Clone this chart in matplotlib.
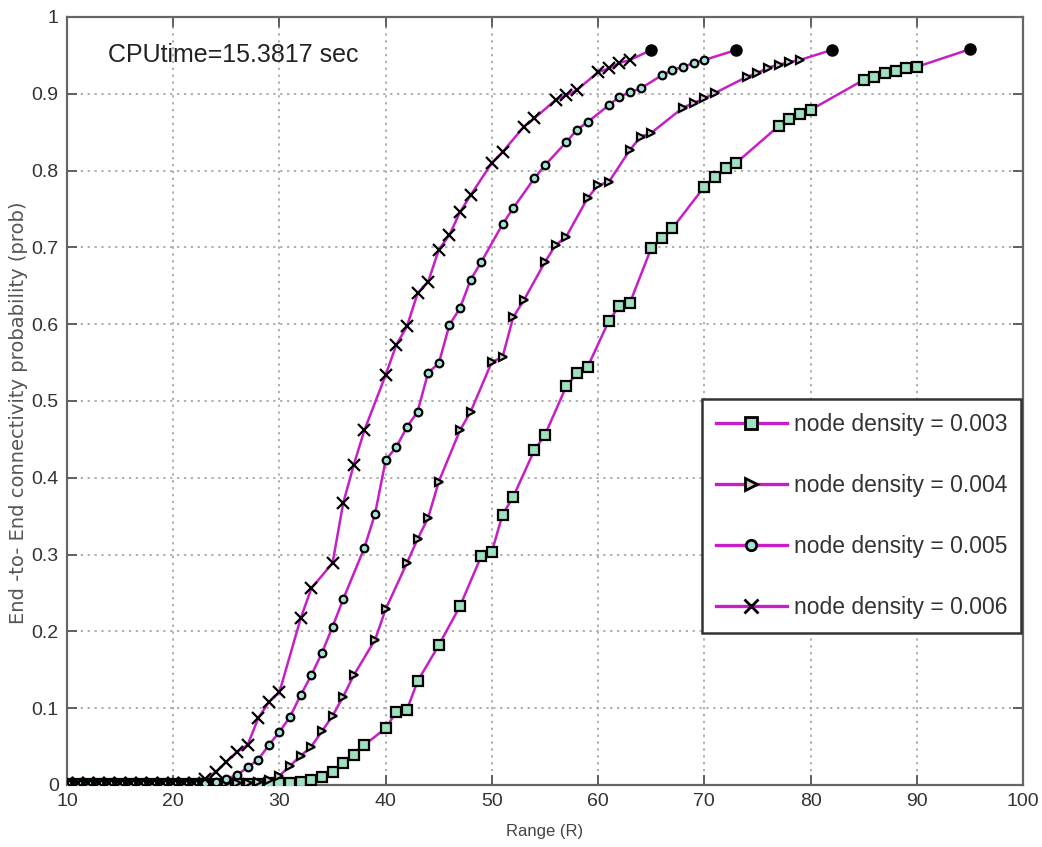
import numpy as np
import matplotlib.pyplot as plt

# Range values (R) and end-to-end connectivity probabilities
low_x = list(range(10, 23))

x_003 = low_x + [23, 24, 25, 26, 27, 28, 29, 30, 31, 32, 33, 34, 35, 36, 37, 38, 40, 41, 42, 43, 45, 47,
                 49, 50, 51, 52, 54, 55, 57, 58, 59, 61, 62, 63, 65, 66, 67, 70, 71, 72, 73,
                 77, 78, 79, 80, 85, 86, 87, 88, 89, 90]
p_003 = [0.001] * 13 + [0.001, 0.001, 0.001, 0.001, 0.001, 0.001, 0.002, 0.003, 0.003, 0.004, 0.006, 0.010,
                        0.017, 0.029, 0.039, 0.052, 0.074, 0.095, 0.098, 0.135, 0.182, 0.233,
                        0.298, 0.304, 0.352, 0.375, 0.436, 0.456, 0.519, 0.536, 0.544, 0.604, 0.624,
                        0.628, 0.699, 0.712, 0.725, 0.779, 0.792, 0.803, 0.810,
                        0.858, 0.867, 0.874, 0.879, 0.918, 0.922, 0.927, 0.930, 0.933, 0.935]

x_004 = low_x + [23, 24, 25, 26, 27, 28, 29, 30, 31, 32, 33, 34, 35, 36, 37, 39, 40, 42, 43, 44, 45,
                 47, 48, 50, 51, 52, 53, 55, 56, 57, 59, 60, 61, 63, 64, 65, 68, 69, 70, 71,
                 74, 75, 76, 77, 78, 79]
p_004 = [0.001] * 13 + [0.001, 0.001, 0.002, 0.002, 0.003, 0.004, 0.006, 0.012, 0.025, 0.038, 0.050,
                        0.070, 0.090, 0.115, 0.143, 0.189, 0.229, 0.289, 0.320, 0.348, 0.395,
                        0.462, 0.486, 0.551, 0.557, 0.609, 0.631, 0.681, 0.703, 0.714, 0.764,
                        0.781, 0.785, 0.827, 0.844, 0.849, 0.882, 0.888, 0.894, 0.901,
                        0.922, 0.927, 0.934, 0.938, 0.941, 0.944]

x_005 = low_x + [23, 24, 25, 26, 27, 28, 29, 30, 31, 32, 33, 34, 35, 36, 38, 39, 40, 41, 42, 43, 44,
                 45, 46, 47, 48, 49, 51, 52, 54, 55, 57, 58, 59, 61, 62, 63, 64, 66, 67, 68, 69, 70]
p_005 = [0.002] * 13 + [0.002, 0.004, 0.008, 0.013, 0.023, 0.033, 0.052, 0.069, 0.089, 0.117, 0.143,
                        0.172, 0.206, 0.242, 0.309, 0.353, 0.423, 0.440, 0.466, 0.486, 0.537,
                        0.549, 0.599, 0.621, 0.658, 0.681, 0.730, 0.751, 0.790, 0.807, 0.837,
                        0.853, 0.863, 0.885, 0.896, 0.902, 0.907, 0.924, 0.931, 0.935, 0.940, 0.944]

x_006 = low_x + [23, 24, 25, 26, 27, 28, 29, 30, 32, 33, 35, 36, 37, 38, 40, 41, 42, 43, 44, 45, 46,
                 47, 48, 50, 51, 53, 54, 56, 57, 58, 60, 61, 62, 63]
p_006 = [0.003] * 13 + [0.008, 0.017, 0.030, 0.043, 0.052, 0.087, 0.108, 0.121, 0.217, 0.256, 0.289,
                        0.367, 0.417, 0.462, 0.534, 0.573, 0.597, 0.640, 0.655, 0.697, 0.716,
                        0.746, 0.768, 0.810, 0.824, 0.857, 0.868, 0.892, 0.898, 0.905, 0.928,
                        0.933, 0.940, 0.944]

# final points (drawn as filled black dots)
end_x = [95, 82, 73, 65]
end_p = [0.958, 0.957, 0.957, 0.957]

labels = ['node density = 0.003', 'node density = 0.004',
          'node density = 0.005', 'node density = 0.006']

plt.rcParams['font.family'] = ['Liberation Sans Narrow', 'Liberation Sans', 'DejaVu Sans']

fig = plt.figure(figsize=(10.42, 8.47), dpi=100)
ax = fig.add_axes([0.0643, 0.0732, 0.9175, 0.9068])

line_col = '#c61fc6'
series = [(x_003, p_003, 's', '#9fe0c0', 6.5),
          (x_004, p_004, '>', '#d0d0d0', 6),
          (x_005, p_005, 'o', '#a8e0d8', 5.5),
          (x_006, p_006, 'x', 'none', 8)]

for i, (xs, ps, mk, fc, ms) in enumerate(series):
    xx = xs + [end_x[i]]
    pp = ps + [end_p[i]]
    ax.plot(xx, pp, '-', color=line_col, lw=1.8, zorder=2)
    ax.plot(xs, ps, linestyle='none', marker=mk, ms=ms, mfc=fc, mec='black',
            mew=1.6, zorder=3)
    ax.plot(end_x[i], end_p[i], 'o', ms=8, color='black', zorder=4)

# legend proxies
handles = []
for xs, ps, mk, fc, ms in series:
    h, = ax.plot([], [], '-', color=line_col, lw=2.4, marker=mk, ms=ms + 2,
                 mfc=fc, mec='black', mew=2)
    handles.append(h)
leg = ax.legend(handles, labels, loc='lower right', bbox_to_anchor=(0.998, 0.198),
                borderaxespad=0, prop={'family': ['Liberation Sans', 'DejaVu Sans'], 'size': 16.5},
                frameon=True, fancybox=False, handlelength=3.1,
                labelspacing=1.66, borderpad=0.6, handletextpad=0.3)
leg.get_frame().set_edgecolor('#333333')
leg.get_frame().set_linewidth(1.8)
leg.get_frame().set_alpha(1)
for t in leg.get_texts():
    t.set_color('#333333')

ax.set_xlim(10, 100)
ax.set_ylim(0, 1)
ax.set_xticks(np.arange(10, 101, 10))
ax.set_yticks(np.arange(0, 1.01, 0.1))
ax.set_yticklabels(['0'] + ['%.1f' % v for v in np.arange(0.1, 0.95, 0.1)] + ['1'])
ax.grid(True, linestyle=(0, (1.5, 3)), color='#999999', lw=1.1)
ax.tick_params(direction='in', length=7, width=1.3, colors='#555555',
               labelsize=14, labelcolor='#333333', top=True, right=True, pad=6)
for s in ax.spines.values():
    s.set_color('#666666')
    s.set_linewidth(1.6)

ax.text(0.043, 0.966, 'CPUtime=15.3817 sec', transform=ax.transAxes,
        fontsize=18, color='#222222', va='top', ha='left',
        family=['Liberation Sans', 'DejaVu Sans'])

ax.set_xlabel('Range (R)', fontsize=12, color='#444444', labelpad=10)
ax.set_ylabel('End -to- End connectivity probability (prob)', fontsize=14,
              color='#555555', family=['DejaVu Sans'])
ax.yaxis.set_label_coords(-0.041, 0.485)

fig.savefig('out.png', dpi=100)
